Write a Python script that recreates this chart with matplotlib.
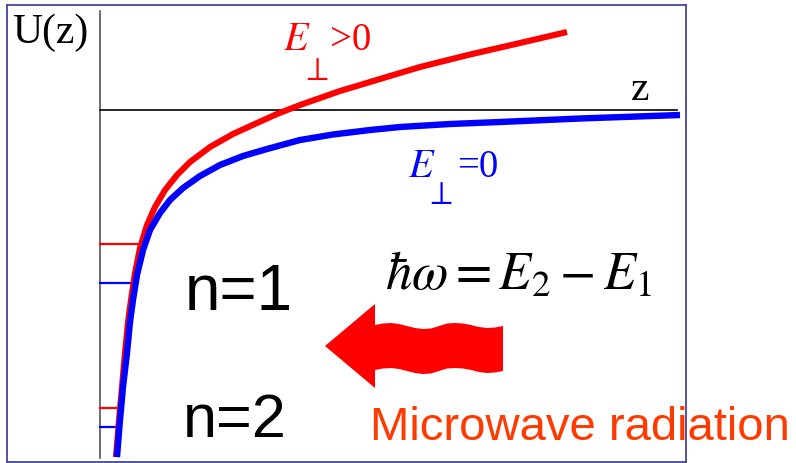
import matplotlib
matplotlib.use("Agg")
import matplotlib.pyplot as plt
from matplotlib.patches import Polygon

plt.rcParams['mathtext.fontset'] = 'stix'

# potential U(z) without field (blue) and with field (red)
z_blue = [0.17, 0.20, 0.23, 0.27, 0.30, 0.33, 0.37, 0.43, 0.50, 0.60, 0.70, 0.83, 1.00,
          1.20, 1.43, 1.67, 2.00, 2.33, 2.70, 3.00, 3.50, 4.00, 4.80, 5.80]
u_blue = [-3.47, -3.10, -2.77, -2.43, -2.12, -1.90, -1.65, -1.40, -1.20, -1.03, -0.90, -0.78, -0.66,
          -0.55, -0.46, -0.39, -0.30, -0.245, -0.20, -0.17, -0.14, -0.12, -0.085, -0.05]
z_red = [0.16, 0.19, 0.22, 0.25, 0.28, 0.31, 0.35, 0.40, 0.47, 0.55, 0.65, 0.77, 0.90,
         1.10, 1.33, 1.57, 1.77, 2.00, 2.40, 2.80, 3.20, 3.70, 4.20, 4.67]
u_red = [-3.47, -3.10, -2.77, -2.43, -2.12, -1.90, -1.63, -1.38, -1.15, -0.97, -0.80, -0.65, -0.52,
         -0.37, -0.24, -0.13, -0.04, 0.05, 0.19, 0.31, 0.43, 0.555, 0.67, 0.78]

# energy levels n=1, n=2 (level, end of the short line)
levels_red = [-1.34, -2.98]
levels_red_end = [0.40, 0.17]
levels_blue = [-1.73, -3.17]
levels_blue_end = [0.31, 0.16]

# wavy arrow: head, then the wavy body (top edge; bottom edge is 0.45 lower)
head_z = [2.25, 2.75, 2.75]
head_u = [-2.36, -1.94, -2.78]
wave_z = [2.75, 2.83, 2.91, 2.99, 3.07, 3.15, 3.23, 3.31, 3.39, 3.47, 3.55,
          3.63, 3.71, 3.79, 3.87, 3.95, 4.03]
wave_top = [-2.15, -2.135, -2.13, -2.14, -2.16, -2.18, -2.19, -2.185, -2.16, -2.135, -2.13,
            -2.135, -2.15, -2.17, -2.18, -2.175, -2.16]
body_h = 0.45

fig = plt.figure(figsize=(7.96, 4.63), dpi=100)
ax = fig.add_axes([7/796, 1/463, 679/796, 457/463])
ax.set_xlim(-0.93, 5.86)
ax.set_ylim(-3.52, 1.05)
ax.set_xticks([])
ax.set_yticks([])
for s in ax.spines.values():
    s.set_color('#4444a0')
    s.set_linewidth(1.3)

# axes
ax.plot([0, 0], [-3.48, 0.99], color='#555555', lw=1.2)
ax.plot([0, 5.77], [0, 0], color='black', lw=1.2)

for lv, e in zip(levels_red, levels_red_end):
    ax.plot([0, e], [lv, lv], color='red', lw=1.6)
for lv, e in zip(levels_blue, levels_blue_end):
    ax.plot([0, e], [lv, lv], color='blue', lw=1.6)

ax.plot(z_red, u_red, color='red', lw=4.4, solid_capstyle='butt', solid_joinstyle='round')
ax.plot(z_blue, u_blue, color='blue', lw=4.6, solid_capstyle='butt', solid_joinstyle='round')

outline = [(head_z[0], head_u[0]), (head_z[1], head_u[1])]
outline += list(zip(wave_z, wave_top))
outline += [(z, u - body_h) for z, u in zip(wave_z[::-1], wave_top[::-1])]
outline += [(head_z[2], head_u[2])]
ax.add_patch(Polygon(outline, closed=True, color='red', lw=0))

serif = 'Liberation Serif'
ax.text(-0.88, 0.67, 'U(z)', family=serif, fontsize=30, va='baseline')
ax.text(5.31, 0.10, 'z', family=serif, fontsize=30, va='baseline')

ax.text(1.83, 0.60, r'$E$', fontsize=29, color='red', va='baseline')
ax.text(2.01, 0.565, r'$\perp$', fontsize=24, color='red', va='top')
ax.text(2.30, 0.60, '>0', family=serif, fontsize=28, color='red', va='baseline')
ax.text(3.08, -0.67, r'$E$', fontsize=29, color='blue', va='baseline')
ax.text(3.25, -0.685, r'$\perp$', fontsize=24, color='blue', va='top')
ax.text(3.57, -0.67, '=0', family=serif, fontsize=28, color='blue', va='baseline')

ax.text(0.85, -2.00, 'n=1', family='Liberation Sans', fontsize=46, va='baseline')
ax.text(0.83, -3.27, 'n=2', family='Liberation Sans', fontsize=44, va='baseline')
ax.text(2.85, -1.80, r'$\hbar\omega = E_2 - E_1$', fontsize=38, va='baseline')
ax.text(2.70, -3.30, 'Microwave radiation', family='Liberation Sans', fontsize=34,
        color='#ff3a00', va='baseline', clip_on=False)

fig.savefig('out.png', dpi=100)
